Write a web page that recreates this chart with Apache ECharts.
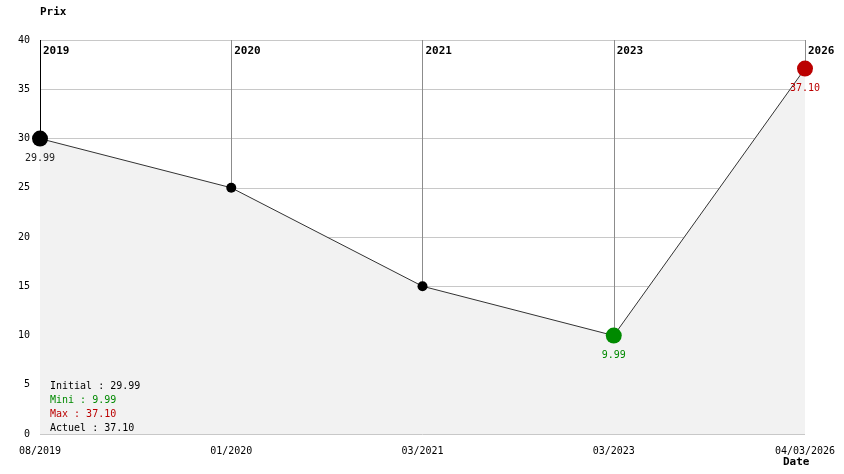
<!DOCTYPE html>
<html>
<head>
<meta charset="utf-8">
<script src="https://cdn.jsdelivr.net/npm/echarts@6/dist/echarts.min.js"></script>
<style>
  html, body { margin: 0; padding: 0; background: #fff; }
  #chart { width: 844px; height: 474px; }
</style>
</head>
<body>
<div id="chart"></div>
<script>
// data
const dates = ['08/2019', '01/2020', '03/2021', '03/2023', '04/03/2026'];
const years = ['2019', '2020', '2021', '2023', '2026'];
const prices = [29.99, 25, 15, 9.99, 37.10];
const yTicks = [0, 5, 10, 15, 20, 25, 30, 35, 40];

const FONT = 'DejaVu Sans Mono';
const GREEN = '#008a00';
const RED = '#bb0000';

let minIdx = prices.indexOf(Math.min(...prices));
let maxIdx = prices.indexOf(Math.max(...prices));
let lastIdx = prices.length - 1;
let yMax = yTicks[yTicks.length - 1];

const seriesData = prices.map(function (v, i) {
    let color = '#000';
    let size = 10;
    let showLabel = false;
    if (i === 0) { size = 16; showLabel = true; }
    if (i === minIdx) { color = GREEN; size = 16; showLabel = true; }
    if (i === maxIdx) { color = RED; size = 16; showLabel = true; }
    return {
        value: v,
        symbolSize: size,
        itemStyle: { color: color },
        label: {
            show: showLabel,
            position: 'bottom',
            distance: 7,
            color: color === '#000' ? '#222' : color,
            formatter: v.toFixed(2),
            fontFamily: FONT,
            fontSize: 10
        }
    };
});

// vertical lines from the top of the plot down to each point
const vLines = prices.map(function (v, i) {
    return [
        { coord: [i, yMax], lineStyle: { color: i === 0 ? '#000' : '#8c8c8c' } },
        { coord: [i, v] }
    ];
});

let myChart = echarts.init(document.getElementById('chart'));
const option = {
    animation: false,
    backgroundColor: '#fff',
    grid: { left: 40, right: 39, top: 40, bottom: 40 },
    xAxis: {
        type: 'category',
        data: dates,
        boundaryGap: false,
        axisLine: { show: false },
        axisTick: { show: false },
        axisLabel: {
            fontFamily: FONT, fontSize: 10, color: '#000', margin: 12, interval: 0,
            alignMinLabel: 'center', alignMaxLabel: 'center'
        },
        splitLine: { show: false }
    },
    yAxis: {
        type: 'value',
        min: 0,
        max: yMax,
        interval: 5,
        name: 'Prix',
        nameLocation: 'end',
        nameGap: 22,
        nameTextStyle: {
            fontFamily: FONT, fontSize: 11, fontWeight: 'bold', color: '#000',
            align: 'left'
        },
        axisLine: { show: false },
        axisTick: { show: false },
        axisLabel: { fontFamily: FONT, fontSize: 10, color: '#000', margin: 10 },
        splitLine: { show: true, lineStyle: { color: '#c8c8c8', width: 1 } }
    },
    series: [
        {
            type: 'line',
            data: seriesData,
            symbol: 'circle',
            lineStyle: { color: '#333', width: 1 },
            areaStyle: { color: '#f2f2f2', opacity: 1 },
            z: 3,
            markLine: {
                silent: true,
                symbol: ['none', 'none'],
                lineStyle: { type: 'solid', width: 1, color: '#8c8c8c' },
                label: { show: false },
                data: vLines,
                z: 2
            },
            markPoint: {
                silent: true,
                symbol: 'circle',
                symbolSize: 0,
                label: {
                    show: true,
                    position: 'right',
                    offset: [-2, 11],
                    formatter: '{b}',
                    fontFamily: FONT,
                    fontSize: 11,
                    fontWeight: 'bold',
                    color: '#000'
                },
                data: years.map(function (y, i) { return { coord: [i, yMax], name: y }; })
            }
        }
    ],
    graphic: [
        {
            type: 'text',
            left: 783,
            top: 457,
            z: 10,
            style: {
                text: 'Date',
                font: 'bold 11px ' + FONT,
                fill: '#000'
            }
        },
        {
            type: 'text',
            left: 50,
            top: 379,
            z: 10,
            style: {
                text: '{a|Initial : ' + prices[0].toFixed(2) + '}\n' +
                      '{g|Mini : ' + prices[minIdx].toFixed(2) + '}\n' +
                      '{r|Max : ' + prices[maxIdx].toFixed(2) + '}\n' +
                      '{a|Actuel : ' + prices[lastIdx].toFixed(2) + '}',
                font: '10px ' + FONT,
                lineHeight: 14,
                rich: {
                    a: { fill: '#000', fontFamily: FONT, fontSize: 10, lineHeight: 14 },
                    g: { fill: GREEN, fontFamily: FONT, fontSize: 10, lineHeight: 14 },
                    r: { fill: RED, fontFamily: FONT, fontSize: 10, lineHeight: 14 }
                }
            }
        }
    ]
};
myChart.setOption(option);
</script>
</body>
</html>
